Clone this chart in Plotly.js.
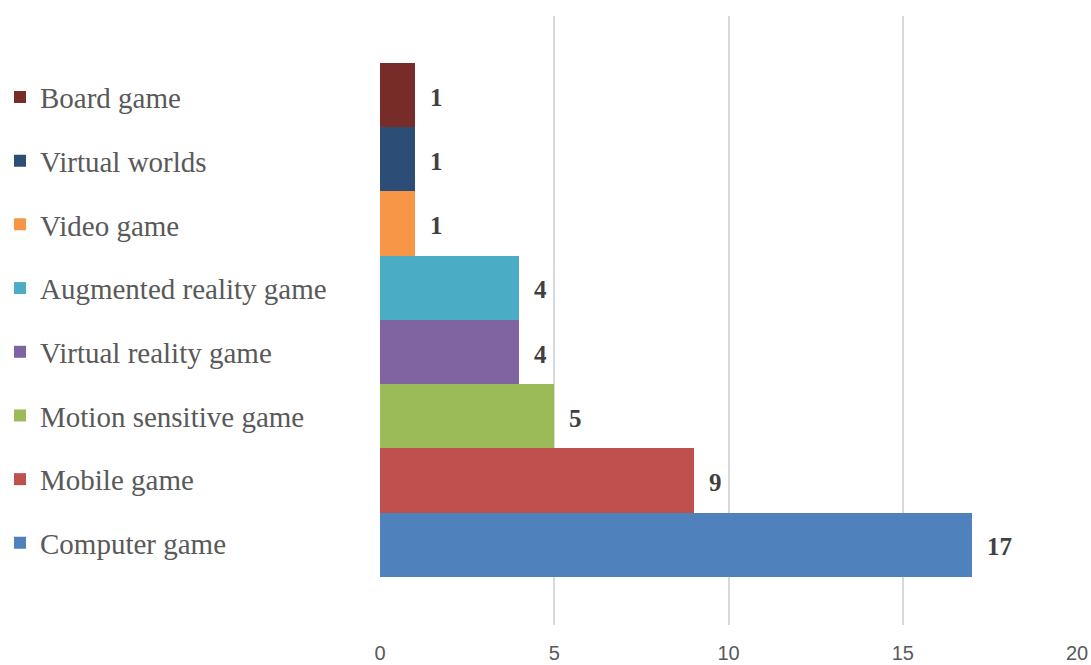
<!DOCTYPE html>
<html>
<head>
<meta charset="utf-8">
<script src="https://cdn.plot.ly/plotly-3.0.1.min.js"></script>
<style>html,body{margin:0;padding:0;background:#fff;}#chart{width:1091px;height:665px;}</style>
</head>
<body>
<div id="chart"></div>
<script>
// bottom to top
const categories = ["Computer game","Mobile game","Motion sensitive game","Virtual reality game","Augmented reality game","Video game","Virtual worlds","Board game"];
const counts = [17, 9, 5, 4, 4, 1, 1, 1];
const colors = ["#4F81BD","#C0504D","#9BBB59","#8064A2","#4BACC6","#F79646","#2C4D75","#772C2A"];
const xTicks = [0, 5, 10, 15, 20];

const traces = categories.map((c, i) => ({
  type: "bar",
  orientation: "h",
  name: c,
  legendgroup: "g" + i,
  legendrank: categories.length - i,
  y: [c],
  x: [counts[i]],
  width: 1,
  marker: {color: colors[i], line: {width: 0}},
  hoverinfo: "x+name"
}));

const annotations = categories.map((c, i) => ({
  x: counts[i], y: c, xref: "x", yref: "y",
  text: "<b>" + counts[i] + "</b>", showarrow: false,
  xanchor: "left", xshift: 13, yshift: -2,
  font: {family: "Liberation Serif, serif", size: 25, color: "#404040"}
}));

const layout = {
  width: 1091, height: 665,
  margin: {l: 380, r: 14, t: 16, b: 40},
  paper_bgcolor: "#fff", plot_bgcolor: "#fff",
  barmode: "overlay", bargap: 0,
  showlegend: true,
  legend: {
    xref: "container", yref: "container",
    x: 0, xanchor: "left", y: 0.8923, yanchor: "top",
    maxheight: 640,
    traceorder: "grouped", tracegroupgap: 23,
    font: {family: "Liberation Serif, serif", size: 29, color: "#595959"},
    bgcolor: "rgba(0,0,0,0)"
  },
  xaxis: {
    range: [0, 20], tickvals: xTicks, ticktext: xTicks.map(String),
    showgrid: true, gridcolor: "#d9d9d9", gridwidth: 2,
    zeroline: false, showline: false, ticks: "",
    ticklabelstandoff: 14,
    tickfont: {family: "Liberation Sans, sans-serif", size: 20, color: "#595959"},
    fixedrange: true
  },
  yaxis: {
    type: "category", categoryarray: categories, categoryorder: "array",
    range: [-1.247, 8.23], showticklabels: false, showgrid: false,
    zeroline: false, showline: false, ticks: "", fixedrange: true
  },
  annotations: annotations
};

Plotly.newPlot("chart", traces, layout, {displayModeBar: false, staticPlot: true});
</script>
</body>
</html>
